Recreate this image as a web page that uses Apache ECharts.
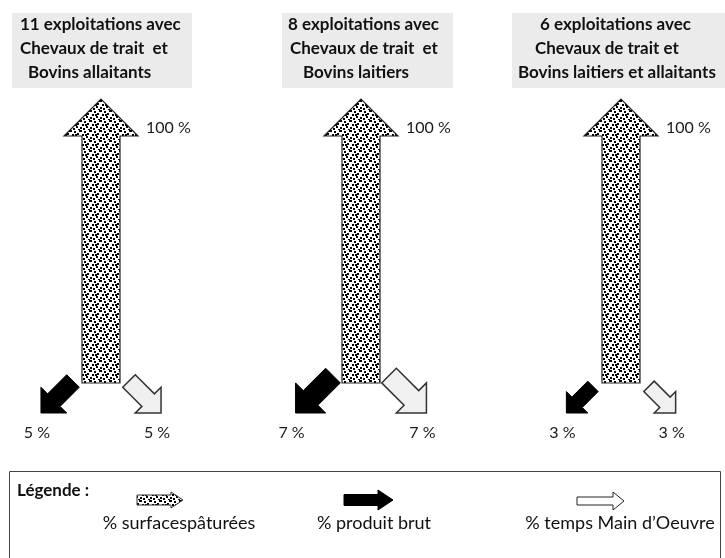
<!DOCTYPE html>
<html>
<head>
<meta charset="utf-8">
<script src="https://cdn.jsdelivr.net/npm/echarts@6/dist/echarts.min.js"></script>
<style>
html,body{margin:0;padding:0;background:#fff;}
#main{width:725px;height:558px;}
</style>
</head>
<body>
<div id="main"></div>
<script>
// ---- data ----
const categories = ['Chevaux de trait et Bovins allaitants', 'Chevaux de trait et Bovins laitiers', 'Chevaux de trait et Bovins laitiers et allaitants'];
const titleLines = [
  ['11 exploitations avec', 'Chevaux de trait  et', 'Bovins allaitants'],
  ['8 exploitations avec', 'Chevaux de trait  et', 'Bovins laitiers'],
  ['6 exploitations avec', 'Chevaux de trait et', 'Bovins laitiers et allaitants']
];
const surfacesPaturees = [100, 100, 100];
const produitBrut = [5, 7, 3];
const tempsMainOeuvre = [5, 7, 3];
const legendLabels = ['% surfacespâturées', '% produit brut', '% temps Main d\u2019Oeuvre'];
const legendTitle = 'Légende :';

// ---- dotted texture ----
function makeDots() {
  const c = document.createElement('canvas');
  c.width = 10; c.height = 10;
  const g = c.getContext('2d');
  g.fillStyle = '#fff'; g.fillRect(0, 0, 10, 10);
  g.fillStyle = '#000';
  const dots = [[0,0],[4,1],[7,3],[2,4],[6,6],[0,7],[3,8],[8,9],[9,0],[5,4]];
  dots.forEach(function (d) { g.fillRect(d[0], d[1], 2, 2); });
  return c;
}
const dotPattern = { image: makeDots(), repeat: 'repeat' };

const FONT = 'Lato, "Open Sans", sans-serif';
const TXT = '#1a1a1a';

function upArrowItem(params, api) {
  const i = api.value(0), v = api.value(1);
  const base = api.coord([i, 0]);
  const tip = api.coord([i, v]);
  const sw = 19, hw = 37, hl = 37, x = base[0];
  const pts = [[x - sw, base[1]], [x - sw, tip[1] + hl], [x - hw, tip[1] + hl], [x, tip[1]],
               [x + hw, tip[1] + hl], [x + sw, tip[1] + hl], [x + sw, base[1]]];
  return {
    type: 'group',
    children: [
      { type: 'polygon', shape: { points: pts }, style: { fill: dotPattern, stroke: '#222', lineWidth: 1.2 } },
      { type: 'text', x: x + 45, y: tip[1] + 29,
        style: { text: v + ' %', fill: TXT, font: '16px ' + FONT, verticalAlign: 'middle', align: 'left' } }
    ]
  };
}

function diagArrow(dir, fill, stroke, lw) {
  return function (params, api) {
    const i = api.value(0), v = api.value(1);
    const base = api.coord([i, 0]);
    const s = 0.57 + 0.083 * v;
    const L = 46 * s, sw = 18 * s, hw = 37 * s, hl = hw / 2;
    const d = L / Math.SQRT2;
    const tail = [base[0] + dir * 28, base[1] + 30 - d];
    const tip = [tail[0] + dir * d, base[1] + 30];
    const u = [dir / Math.SQRT2, 1 / Math.SQRT2];
    const w = [1 / Math.SQRT2, -dir / Math.SQRT2];
    const loc = [[0, -sw / 2], [L - hl, -sw / 2], [L - hl, -hw / 2], [L, 0], [L - hl, hw / 2], [L - hl, sw / 2], [0, sw / 2]];
    const pts = loc.map(function (p) { return [tail[0] + p[0] * u[0] + p[1] * w[0], tail[1] + p[0] * u[1] + p[1] * w[1]]; });
    return {
      type: 'group',
      children: [
        { type: 'polygon', shape: { points: pts }, style: { fill: fill, stroke: stroke, lineWidth: lw } },
        { type: 'text', x: tip[0] - 4, y: base[1] + 50,
          style: { text: v + ' %', fill: TXT, font: '16px ' + FONT, align: 'center', verticalAlign: 'middle' } }
      ]
    };
  };
}

// ---- graphic (titles + legend) ----
const titleBoxes = [
  { x: 12, w: 180, lx: [20, 20, 28] },
  { x: 282, w: 171, lx: [288, 290, 303] },
  { x: 512, w: 213, lx: [540, 535, 518] }
];
const graphic = [];
titleBoxes.forEach(function (b, k) {
  graphic.push({ type: 'rect', shape: { x: b.x, y: 13, width: b.w, height: 75 }, style: { fill: '#ebebeb' }, z: 1 });
  titleLines[k].forEach(function (t, j) {
    graphic.push({ type: 'text', x: b.lx[j], y: 25 + 24 * j, z: 2,
      style: { text: t, fill: '#111', font: 'bold 17px ' + FONT, verticalAlign: 'middle' } });
  });
});
graphic.push({ type: 'rect', shape: { x: 9.5, y: 471.5, width: 711, height: 120 }, style: { fill: '#fff', stroke: '#444', lineWidth: 1 }, z: 1 });
graphic.push({ type: 'text', x: 17, y: 491, z: 2, style: { text: legendTitle, fill: '#111', font: 'bold 17px ' + FONT, verticalAlign: 'middle' } });
function hArrow(x0, x1, cy, sh, hh, hlen) {
  const xh = x1 - hlen;
  return [[x0, cy - sh], [xh, cy - sh], [xh, cy - hh], [x1, cy], [xh, cy + hh], [xh, cy + sh], [x0, cy + sh]];
}
graphic.push({ type: 'polygon', z: 2, shape: { points: hArrow(137, 183, 500, 5, 8, 12) }, style: { fill: dotPattern, stroke: '#333', lineWidth: 1 } });
graphic.push({ type: 'polygon', z: 2, shape: { points: hArrow(344, 393, 500, 5.5, 10, 15) }, style: { fill: '#000', stroke: '#000', lineWidth: 1 } });
graphic.push({ type: 'polygon', z: 2, shape: { points: hArrow(577, 624, 501, 4, 9, 11) }, style: { fill: '#fff', stroke: '#222', lineWidth: 1 } });
[[179, legendLabels[0]], [374, legendLabels[1]], [620, legendLabels[2]]].forEach(function (p) {
  graphic.push({ type: 'text', x: p[0], y: 523, z: 2, style: { text: p[1], fill: '#111', font: '18px ' + FONT, align: 'center', verticalAlign: 'middle' } });
});

const chart = echarts.init(document.getElementById('main'));
chart.setOption({
  animation: false,
  backgroundColor: '#fff',
  grid: { left: 101, right: 104, top: 99, bottom: 175 },
  xAxis: { type: 'category', data: categories, boundaryGap: false, show: false },
  yAxis: { type: 'value', min: 0, max: 100, show: false },
  graphic: graphic,
  series: [
    { type: 'custom', name: 'surfaces pâturées', renderItem: upArrowItem,
      data: surfacesPaturees.map(function (v, i) { return [i, v]; }) },
    { type: 'custom', name: 'produit brut', renderItem: diagArrow(-1, '#000', '#000', 1),
      data: produitBrut.map(function (v, i) { return [i, v]; }) },
    { type: 'custom', name: 'temps Main d\u2019Oeuvre', renderItem: diagArrow(1, '#f0f0f0', '#333', 1.5),
      data: tempsMainOeuvre.map(function (v, i) { return [i, v]; }) }
  ]
});
</script>
</body>
</html>
